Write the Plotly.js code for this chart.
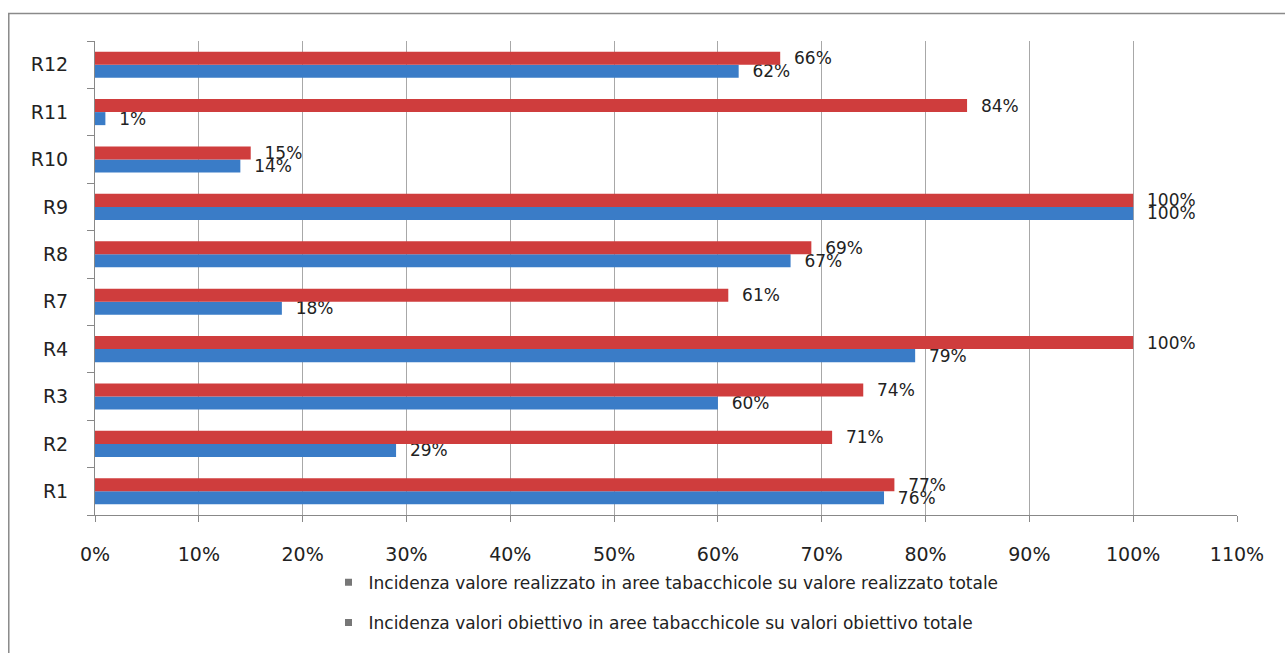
<!DOCTYPE html>
<html><head><meta charset="utf-8">
<script src="https://cdn.plot.ly/plotly-3.0.1.min.js"></script>
<style>html,body{margin:0;padding:0;background:#fff}#chart{width:1285px;height:653px}</style>
</head><body><div id="chart"></div>
<script>
const categories = ["R1","R2","R3","R4","R7","R8","R9","R10","R11","R12"];
const realizzato = [0.76,0.29,0.60,0.79,0.18,0.67,1.00,0.14,0.01,0.62];
const obiettivo = [0.77,0.71,0.74,1.00,0.61,0.69,1.00,0.15,0.84,0.66];
const nameRealizzato = "Incidenza valore realizzato in aree tabacchicole su valore realizzato totale";
const nameObiettivo = "Incidenza valori obiettivo in aree tabacchicole su valori obiettivo totale";
const xTicks = [0,0.1,0.2,0.3,0.4,0.5,0.6,0.7,0.8,0.9,1.0,1.1];

const pct = v => Math.round(v*100) + "%";
const labelFont = {family:"DejaVu Sans", size:17, color:"#222"};

const traces = [
 {type:"bar", orientation:"h", y:categories, x:realizzato, name:nameRealizzato,
  marker:{color:"#3a7cc7"}, text:realizzato.map(v => "  " + pct(v)), textposition:"outside",
  constraintext:"none", textfont:labelFont, cliponaxis:false, showlegend:false},
 {type:"bar", orientation:"h", y:categories, x:obiettivo, name:nameObiettivo,
  marker:{color:"#cf3d3d"}, text:obiettivo.map(v => "  " + pct(v)), textposition:"outside",
  constraintext:"none", textfont:labelFont, cliponaxis:false, showlegend:false},
 {type:"scatter", mode:"markers", y:[null], x:[null], name:nameRealizzato, legendgroup:"a",
  marker:{color:"#777", symbol:"square", size:7}, showlegend:true, hoverinfo:"skip"},
 {type:"scatter", mode:"markers", y:[null], x:[null], name:nameObiettivo, legendgroup:"b",
  marker:{color:"#777", symbol:"square", size:7}, showlegend:true, hoverinfo:"skip"}
];

const layout = {
 width:1285, height:653,
 margin:{l:95, r:48, t:41, b:133},
 paper_bgcolor:"#fff", plot_bgcolor:"#fff",
 barmode:"group", bargap:0.45, bargroupgap:0,
 xaxis:{range:[0,1.1], tickvals:xTicks, ticktext:xTicks.map(pct),
   showgrid:true, gridcolor:"#a8a8a8", gridwidth:1, zeroline:false,
   showline:true, linecolor:"#888", ticks:"outside", ticklen:6, tickcolor:"#888",
   ticklabelstandoff:16,
   tickfont:{family:"DejaVu Sans", size:19, color:"#222"}, fixedrange:true},
 yaxis:{type:"category", categoryorder:"array", categoryarray:categories,
   showgrid:false, zeroline:false, showline:true, linecolor:"#888",
   ticks:"outside", tickson:"boundaries", ticklen:7, tickcolor:"#888",
   ticklabelstandoff:22,
   tickfont:{family:"DejaVu Sans", size:19, color:"#222"}, fixedrange:true},
 showlegend:true,
 legend:{orientation:"v", x:0.5, xanchor:"center", y:-0.105, yanchor:"top",
   traceorder:"grouped", tracegroupgap:15,
   font:{family:"DejaVu Sans", size:17, color:"#222"},
   itemwidth:30, bgcolor:"rgba(0,0,0,0)"},
 shapes:[{type:"rect", xref:"paper", yref:"paper",
   x0:-0.0755, x1:1.1, y0:-0.4, y1:1.058,
   line:{color:"#8a8a8a", width:1.5}, fillcolor:"rgba(0,0,0,0)"}]
};

Plotly.newPlot("chart", traces, layout, {displayModeBar:false, staticPlot:true});
</script></body></html>
